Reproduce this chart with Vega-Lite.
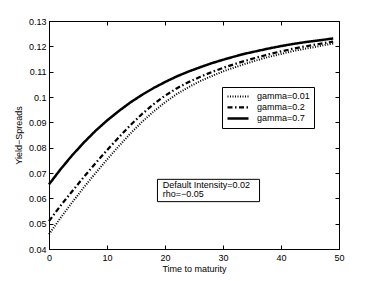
{
  "$schema": "https://vega.github.io/schema/vega-lite/v6.json",
  "width": 290,
  "height": 228,
  "autosize": {"type": "none"},
  "padding": {"left": 49, "top": 21, "right": 35, "bottom": 32},
  "background": "white",
  "config": {
    "font": "Liberation Sans",
    "view": {"stroke": "black", "strokeWidth": 1},
    "axis": {
      "grid": false,
      "domainColor": "black",
      "tickColor": "black",
      "labelColor": "black",
      "titleColor": "black",
      "labelFontSize": 9,
      "titleFontSize": 9,
      "titleFontWeight": "normal",
      "tickSize": -4,
      "labelFlush": false
    },
    "legend": {
      "orient": "none",
      "legendX": 173,
      "legendY": 66,
      "strokeColor": "black",
      "fillColor": "white",
      "padding": 4,
      "labelFontSize": 9,
      "labelOffset": 7,
      "rowPadding": 0,
      "symbolSize": 441,
      "symbolType": "stroke",
      "symbolStrokeColor": "black",
      "clipHeight": 10.8,
      "titleFontSize": 0
    }
  },
  "datasets": {
    "curves": [
      {"t": 0, "v": 0.0655, "series": "gamma=0.7"},
      {"t": 2, "v": 0.0715, "series": "gamma=0.7"},
      {"t": 4, "v": 0.0770, "series": "gamma=0.7"},
      {"t": 6, "v": 0.0820, "series": "gamma=0.7"},
      {"t": 8, "v": 0.0866, "series": "gamma=0.7"},
      {"t": 10, "v": 0.0907, "series": "gamma=0.7"},
      {"t": 12, "v": 0.0944, "series": "gamma=0.7"},
      {"t": 14, "v": 0.0978, "series": "gamma=0.7"},
      {"t": 16, "v": 0.1008, "series": "gamma=0.7"},
      {"t": 18, "v": 0.1035, "series": "gamma=0.7"},
      {"t": 20, "v": 0.1059, "series": "gamma=0.7"},
      {"t": 22, "v": 0.1081, "series": "gamma=0.7"},
      {"t": 24, "v": 0.1100, "series": "gamma=0.7"},
      {"t": 26, "v": 0.1117, "series": "gamma=0.7"},
      {"t": 28, "v": 0.1133, "series": "gamma=0.7"},
      {"t": 30, "v": 0.1147, "series": "gamma=0.7"},
      {"t": 32, "v": 0.1160, "series": "gamma=0.7"},
      {"t": 34, "v": 0.1172, "series": "gamma=0.7"},
      {"t": 36, "v": 0.1182, "series": "gamma=0.7"},
      {"t": 38, "v": 0.1192, "series": "gamma=0.7"},
      {"t": 40, "v": 0.1201, "series": "gamma=0.7"},
      {"t": 42, "v": 0.1209, "series": "gamma=0.7"},
      {"t": 44, "v": 0.1216, "series": "gamma=0.7"},
      {"t": 46, "v": 0.1222, "series": "gamma=0.7"},
      {"t": 48, "v": 0.1228, "series": "gamma=0.7"},
      {"t": 49, "v": 0.1231, "series": "gamma=0.7"},
      {"t": 0, "v": 0.0510, "series": "gamma=0.2"},
      {"t": 2, "v": 0.0571, "series": "gamma=0.2"},
      {"t": 4, "v": 0.0628, "series": "gamma=0.2"},
      {"t": 6, "v": 0.0684, "series": "gamma=0.2"},
      {"t": 8, "v": 0.0738, "series": "gamma=0.2"},
      {"t": 10, "v": 0.0790, "series": "gamma=0.2"},
      {"t": 12, "v": 0.0840, "series": "gamma=0.2"},
      {"t": 14, "v": 0.0888, "series": "gamma=0.2"},
      {"t": 16, "v": 0.0932, "series": "gamma=0.2"},
      {"t": 18, "v": 0.0971, "series": "gamma=0.2"},
      {"t": 20, "v": 0.1005, "series": "gamma=0.2"},
      {"t": 22, "v": 0.1034, "series": "gamma=0.2"},
      {"t": 24, "v": 0.1058, "series": "gamma=0.2"},
      {"t": 26, "v": 0.1079, "series": "gamma=0.2"},
      {"t": 28, "v": 0.1098, "series": "gamma=0.2"},
      {"t": 30, "v": 0.1115, "series": "gamma=0.2"},
      {"t": 32, "v": 0.1130, "series": "gamma=0.2"},
      {"t": 34, "v": 0.1144, "series": "gamma=0.2"},
      {"t": 36, "v": 0.1157, "series": "gamma=0.2"},
      {"t": 38, "v": 0.1169, "series": "gamma=0.2"},
      {"t": 40, "v": 0.1180, "series": "gamma=0.2"},
      {"t": 42, "v": 0.1190, "series": "gamma=0.2"},
      {"t": 44, "v": 0.1199, "series": "gamma=0.2"},
      {"t": 46, "v": 0.1207, "series": "gamma=0.2"},
      {"t": 48, "v": 0.1215, "series": "gamma=0.2"},
      {"t": 49, "v": 0.1219, "series": "gamma=0.2"},
      {"t": 0, "v": 0.0458, "series": "gamma=0.01"},
      {"t": 2, "v": 0.0523, "series": "gamma=0.01"},
      {"t": 4, "v": 0.0584, "series": "gamma=0.01"},
      {"t": 6, "v": 0.0643, "series": "gamma=0.01"},
      {"t": 8, "v": 0.0699, "series": "gamma=0.01"},
      {"t": 10, "v": 0.0753, "series": "gamma=0.01"},
      {"t": 12, "v": 0.0805, "series": "gamma=0.01"},
      {"t": 14, "v": 0.0855, "series": "gamma=0.01"},
      {"t": 16, "v": 0.0901, "series": "gamma=0.01"},
      {"t": 18, "v": 0.0942, "series": "gamma=0.01"},
      {"t": 20, "v": 0.0979, "series": "gamma=0.01"},
      {"t": 22, "v": 0.1011, "series": "gamma=0.01"},
      {"t": 24, "v": 0.1038, "series": "gamma=0.01"},
      {"t": 26, "v": 0.1062, "series": "gamma=0.01"},
      {"t": 28, "v": 0.1082, "series": "gamma=0.01"},
      {"t": 30, "v": 0.1101, "series": "gamma=0.01"},
      {"t": 32, "v": 0.1117, "series": "gamma=0.01"},
      {"t": 34, "v": 0.1132, "series": "gamma=0.01"},
      {"t": 36, "v": 0.1146, "series": "gamma=0.01"},
      {"t": 38, "v": 0.1159, "series": "gamma=0.01"},
      {"t": 40, "v": 0.1170, "series": "gamma=0.01"},
      {"t": 42, "v": 0.1181, "series": "gamma=0.01"},
      {"t": 44, "v": 0.1190, "series": "gamma=0.01"},
      {"t": 46, "v": 0.1198, "series": "gamma=0.01"},
      {"t": 48, "v": 0.1207, "series": "gamma=0.01"},
      {"t": 49, "v": 0.1211, "series": "gamma=0.01"}
    ],
    "notebox": [
      {"x1": 18.7, "x2": 36.3, "y1": 0.0587, "y2": 0.0675}
    ],
    "notetext": [
      {"t": 19.6, "v": 0.0653, "text": "Default Intensity=0.02"},
      {"t": 19.6, "v": 0.0618, "text": "rho=−0.05"}
    ]
  },
  "layer": [
    {
      "data": {"name": "curves"},
      "mark": {"type": "line", "color": "black", "strokeCap": "butt"},
      "encoding": {
        "x": {
          "field": "t", "type": "quantitative",
          "scale": {"domain": [0, 50], "nice": false},
          "axis": {"orient": "bottom", "values": [0, 10, 20, 30, 40, 50], "title": "Time to maturity", "labelPadding": 8, "titlePadding": 2}
        },
        "y": {
          "field": "v", "type": "quantitative",
          "scale": {"domain": [0.04, 0.13], "nice": false, "zero": false},
          "axis": {"orient": "left", "values": [0.04, 0.05, 0.06, 0.07, 0.08, 0.09, 0.1, 0.11, 0.12, 0.13], "format": "~g", "title": "Yield−Spreads", "labelPadding": 7, "titlePadding": 5}
        },
        "detail": {"field": "series", "type": "nominal"},
        "strokeDash": {
          "field": "series", "type": "nominal",
          "scale": {"domain": ["gamma=0.01", "gamma=0.2", "gamma=0.7"], "range": [[1, 1.5], [5, 2.5, 1.5, 2.5], [1, 0]]},
          "legend": {"title": null}
        },
        "strokeWidth": {
          "field": "series", "type": "nominal",
          "scale": {"domain": ["gamma=0.01", "gamma=0.2", "gamma=0.7"], "range": [2, 2.5, 3]},
          "legend": {"title": null}
        }
      }
    },
    {
      "data": {"name": "curves"},
      "mark": {"type": "line", "opacity": 0},
      "encoding": {
        "x": {
          "field": "t", "type": "quantitative",
          "scale": {"domain": [0, 50], "nice": false},
          "axis": {"orient": "top", "values": [0, 10, 20, 30, 40, 50], "labels": false, "title": null}
        },
        "y": {
          "field": "v", "type": "quantitative",
          "scale": {"domain": [0.04, 0.13], "nice": false, "zero": false},
          "axis": {"orient": "right", "values": [0.04, 0.05, 0.06, 0.07, 0.08, 0.09, 0.1, 0.11, 0.12, 0.13], "labels": false, "title": null}
        },
        "detail": {"field": "series", "type": "nominal"}
      }
    },
    {
      "data": {"name": "notebox"},
      "mark": {"type": "rect", "fill": "white", "stroke": "black", "strokeWidth": 1},
      "encoding": {
        "x": {"field": "x1", "type": "quantitative", "axis": null},
        "x2": {"field": "x2"},
        "y": {"field": "y1", "type": "quantitative", "axis": null},
        "y2": {"field": "y2"}
      }
    },
    {
      "data": {"name": "notetext"},
      "mark": {"type": "text", "align": "left", "baseline": "middle", "fontSize": 9, "color": "black"},
      "encoding": {
        "x": {"field": "t", "type": "quantitative", "axis": null},
        "y": {"field": "v", "type": "quantitative", "axis": null},
        "text": {"field": "text", "type": "nominal"}
      }
    }
  ],
  "resolve": {"axis": {"x": "independent", "y": "independent"}}
}
